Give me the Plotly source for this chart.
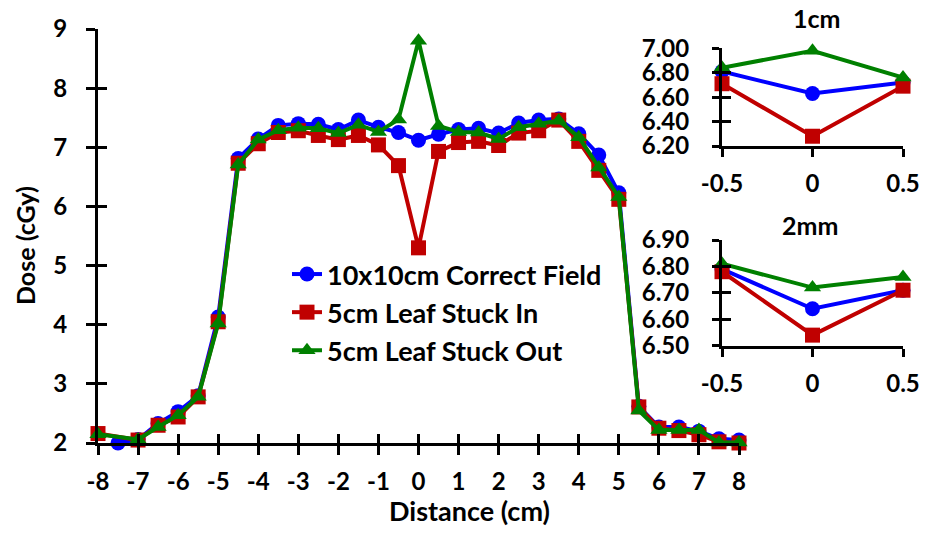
import plotly.graph_objects as go

W, H = 927, 533

# ---------------- data ----------------
x_blue = [-7.5, -7, -6.5, -6, -5.5, -5, -4.5, -4, -3.5, -3, -2.5, -2, -1.5, -1, -0.5, 0,
          0.5, 1, 1.5, 2, 2.5, 3, 3.5, 4, 4.5, 5, 5.5, 6, 6.5, 7, 7.5, 8]
y_blue = [2.00, 2.06, 2.33, 2.53, 2.80, 4.13, 6.81, 7.14, 7.37, 7.40, 7.39, 7.30, 7.46, 7.34, 7.25, 7.12,
          7.22, 7.30, 7.32, 7.24, 7.41, 7.46, 7.48, 7.23, 6.87, 6.23, 2.62, 2.27, 2.27, 2.20, 2.07, 2.05]

x_red = [-8, -7, -6.5, -6, -5.5, -5, -4.5, -4, -3.5, -3, -2.5, -2, -1.5, -1, -0.5, 0,
         0.5, 1, 1.5, 2, 2.5, 3, 3.5, 4, 4.5, 5, 5.5, 6, 6.5, 7, 7.5, 8]
y_red = [2.16, 2.05, 2.30, 2.44, 2.78, 4.05, 6.73, 7.06, 7.25, 7.28, 7.20, 7.13, 7.20, 7.04, 6.69, 5.30,
         6.93, 7.08, 7.10, 7.03, 7.24, 7.28, 7.46, 7.10, 6.61, 6.12, 2.61, 2.25, 2.21, 2.14, 2.02, 2.00]

x_green = [-8, -7, -6.5, -6, -5.5, -5, -4.5, -4, -3.5, -3, -2.5, -2, -1.5, -1, -0.5, 0,
           0.5, 1, 1.5, 2, 2.5, 3, 3.5, 4, 4.5, 5, 5.5, 6, 6.5, 7, 7.5, 8]
y_green = [2.15, 2.06, 2.27, 2.47, 2.78, 4.02, 6.71, 7.13, 7.29, 7.33, 7.32, 7.24, 7.38, 7.26, 7.47, 8.80,
           7.36, 7.26, 7.25, 7.14, 7.34, 7.40, 7.45, 7.17, 6.66, 6.16, 2.55, 2.22, 2.22, 2.22, 2.01, 2.01]

main_xticks = [-8, -7, -6, -5, -4, -3, -2, -1, 0, 1, 2, 3, 4, 5, 6, 7, 8]
main_xlabels = ["-8", "-7", "-6", "-5", "-4", "-3", "-2", "-1", "0", "1", "2", "3", "4", "5", "6", "7", "8"]
main_yticks = [2, 3, 4, 5, 6, 7, 8, 9]

inset_x = [-0.5, 0, 0.5]
inset_xlabels = ["-0.5", "0", "0.5"]

in1_blue = [6.81, 6.63, 6.72]
in1_red = [6.71, 6.28, 6.69]
in1_green = [6.84, 6.98, 6.76]
in1_yticks = [6.2, 6.4, 6.6, 6.8, 7.0]

in2_blue = [6.79, 6.64, 6.71]
in2_red = [6.78, 6.54, 6.71]
in2_green = [6.81, 6.72, 6.76]
in2_yticks = [6.5, 6.6, 6.7, 6.8, 6.9]

names = ["10x10cm Correct Field", "5cm Leaf Stuck In", "5cm Leaf Stuck Out"]
colors = ["#0000FF", "#C00000", "#008000"]
symbols = ["circle", "square", "triangle-up"]

FONT = "Lato"
TICKFONT = dict(family=FONT, size=24, color="black", weight="bold")

fig = go.Figure()

def add_series(xs, ys, i, xa, ya, show):
    fig.add_trace(go.Scatter(
        x=xs, y=ys, mode="lines+markers", name=names[i],
        line=dict(color=colors[i], width=4),
        marker=dict(symbol=symbols[i], size=15, color=colors[i]),
        xaxis=xa, yaxis=ya, showlegend=show, cliponaxis=False,
    ))

# main
add_series(x_blue, y_blue, 0, "x", "y", True)
add_series(x_red, y_red, 1, "x", "y", True)
add_series(x_green, y_green, 2, "x", "y", True)
# inset 1cm
add_series(inset_x, in1_blue, 0, "x3", "y3", False)
add_series(inset_x, in1_red, 1, "x3", "y3", False)
add_series(inset_x, in1_green, 2, "x3", "y3", False)
# inset 2mm
add_series(inset_x, in2_blue, 0, "x5", "y5", False)
add_series(inset_x, in2_red, 1, "x5", "y5", False)
add_series(inset_x, in2_green, 2, "x5", "y5", False)

# invisible traces to activate overlay axes (inside ticks -> crossing ticks)
for xa, ya in [("x2", "y2"), ("x3", "y4"), ("x5", "y6")]:
    fig.add_trace(go.Scatter(x=[None], y=[None], xaxis=xa, yaxis=ya, showlegend=False,
                             hoverinfo="skip"))

main_xd = [98 / W, 739 / W]
main_yd = [1 - 443 / H, 1 - 29 / H]
in_xd = [722 / W, 903 / W]
in1_yd = [1 - 146 / H, 1 - 48.3 / H]
in2_yd = [1 - 345.7 / H, 1 - 240 / H]

axis_common = dict(showgrid=False, zeroline=False, showline=True, linecolor="black",
                   linewidth=3, tickcolor="black", tickwidth=3, tickfont=TICKFONT,
                   automargin=False)
overlay_common = dict(tickwidth=3, tickcolor="black", showticklabels=False, showline=False,
                      showgrid=False, zeroline=False, automargin=False)

def ann(text, px, py, size, angle=0):
    return dict(text=text, x=px / W, y=1 - py / H, xref="paper", yref="paper",
                xanchor="center", yanchor="middle", textangle=angle, showarrow=False,
                font=dict(family=FONT, size=size, weight="bold", color="black"))

fig.update_layout(
    width=W, height=H, margin=dict(l=0, r=0, t=0, b=0, autoexpand=False),
    paper_bgcolor="white", plot_bgcolor="rgba(0,0,0,0)",
    font=dict(family=FONT, color="black"),
    xaxis=dict(domain=main_xd, range=[-8, 8], tickvals=main_xticks, ticktext=main_xlabels,
               ticks="outside", ticklen=9, anchor="y", ticklabelstandoff=6, **axis_common),
    yaxis=dict(domain=main_yd, range=[2, 9], tickvals=main_yticks, ticks="outside", ticklen=9,
               anchor="x", ticklabelstandoff=14, **axis_common),
    xaxis2=dict(domain=main_xd, range=[-8, 8], tickvals=main_xticks, ticks="inside", ticklen=9,
                overlaying="x", anchor="y2", **overlay_common),
    yaxis2=dict(domain=main_yd, range=[2, 9], tickvals=main_yticks, ticks="inside", ticklen=9,
                overlaying="y", anchor="x2", **overlay_common),
    xaxis3=dict(domain=in_xd, range=[-0.5, 0.5], tickvals=inset_x, ticktext=inset_xlabels,
                ticks="outside", ticklen=8, anchor="y3", ticklabelstandoff=6, **axis_common),
    yaxis3=dict(domain=in1_yd, range=[6.2, 7.0], tickvals=in1_yticks, tickformat=".2f",
                ticks="outside", ticklen=7, anchor="x3", ticklabelstandoff=18, **axis_common),
    yaxis4=dict(domain=in1_yd, range=[6.2, 7.0], tickvals=in1_yticks, ticks="inside", ticklen=9,
                overlaying="y3", anchor="x3", **overlay_common),
    xaxis5=dict(domain=in_xd, range=[-0.5, 0.5], tickvals=inset_x, ticktext=inset_xlabels,
                ticks="outside", ticklen=8, anchor="y5", ticklabelstandoff=6, **axis_common),
    yaxis5=dict(domain=in2_yd, range=[6.5, 6.9], tickvals=in2_yticks, tickformat=".2f",
                ticks="outside", ticklen=7, anchor="x5", ticklabelstandoff=18, **axis_common),
    yaxis6=dict(domain=in2_yd, range=[6.5, 6.9], tickvals=in2_yticks, ticks="inside", ticklen=9,
                overlaying="y5", anchor="x5", **overlay_common),
    legend=dict(x=287 / W, y=1 - 250 / H, xanchor="left", yanchor="top",
                bgcolor="rgba(0,0,0,0)", traceorder="normal",
                font=dict(family=FONT, size=27, color="black", weight="bold")),
    annotations=[
        ann("Dose (cGy)", 25, 246, 25, -90),
        ann("Distance (cm)", 469, 510, 27),
        ann("1cm", 817, 18, 25),
        ann("2mm", 810, 225, 25),
    ],
)

fig.write_html("out.html")
